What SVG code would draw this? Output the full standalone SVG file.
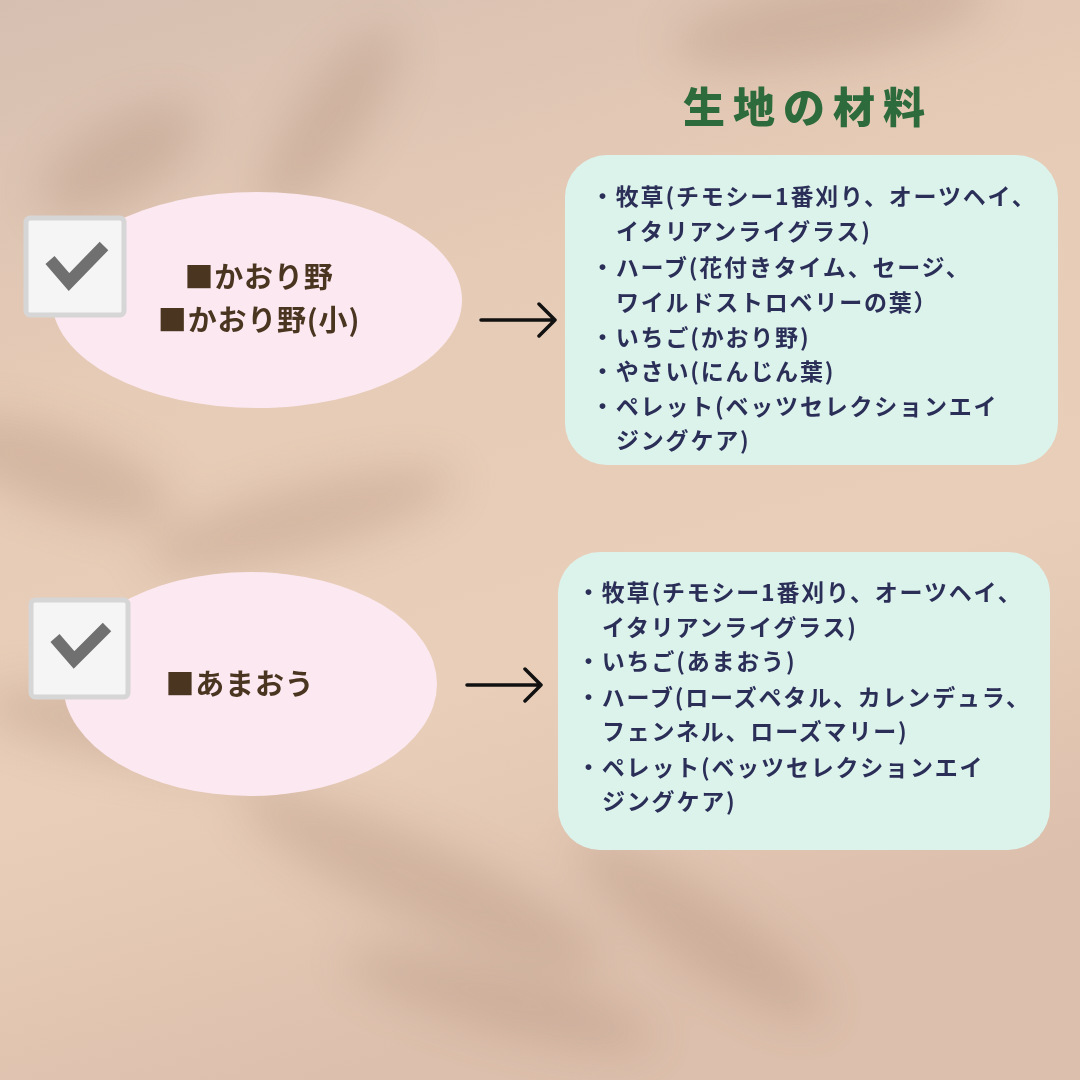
<svg xmlns="http://www.w3.org/2000/svg" width="1080" height="1080" viewBox="0 0 1080 1080">
<style>
.title{font-family:"Noto Sans CJK JP","Noto Sans",sans-serif;font-weight:900;font-size:42px;fill:#2d6a3c;letter-spacing:8px}
.oval{fill:#fce8f1}
.otext{font-family:"Noto Sans CJK JP","Noto Sans",sans-serif;font-weight:700;font-size:29px;fill:#4a3520;letter-spacing:0.8px}
.panel{fill:#dcf3ec}
.ptext{font-family:"Noto Sans CJK JP","Noto Sans",sans-serif;font-weight:700;font-size:23px;fill:#2b2f58;letter-spacing:1.8px}
.box{fill:#f5f5f5;stroke:#d6d6d6;stroke-width:5}
.check{fill:none;stroke:#707070;stroke-width:12;stroke-linejoin:miter}
.arrow{fill:none;stroke:#111;stroke-width:3.5;stroke-linecap:round;stroke-linejoin:round}
</style>
<defs>
<linearGradient id="bg" x1="0" y1="0" x2="0.3" y2="1">
<stop offset="0" stop-color="#d6bfb1"/>
<stop offset="0.35" stop-color="#e6cbb6"/>
<stop offset="0.7" stop-color="#e9cfba"/>
<stop offset="1" stop-color="#dcbfac"/>
</linearGradient>
<filter id="blur" x="-50%" y="-50%" width="200%" height="200%"><feGaussianBlur stdDeviation="22"/></filter>
</defs>
<rect width="1080" height="1080" fill="url(#bg)"/>
<g filter="url(#blur)" fill="#a88672" opacity="0.3">
<ellipse cx="120" cy="160" rx="90" ry="40" transform="rotate(-30 120 160)"/>
<ellipse cx="330" cy="120" rx="110" ry="35" transform="rotate(-55 330 120)"/>
<ellipse cx="60" cy="470" rx="120" ry="40" transform="rotate(20 60 470)"/>
<ellipse cx="300" cy="520" rx="160" ry="35" transform="rotate(-15 300 520)"/>
<ellipse cx="140" cy="730" rx="160" ry="35" transform="rotate(10 140 730)"/>
<ellipse cx="420" cy="880" rx="200" ry="40" transform="rotate(25 420 880)"/>
<ellipse cx="700" cy="930" rx="150" ry="35" transform="rotate(35 700 930)"/>
<ellipse cx="830" cy="20" rx="160" ry="40" transform="rotate(-10 830 20)"/>
<ellipse cx="500" cy="1000" rx="160" ry="30" transform="rotate(15 500 1000)"/>
</g>

<g id="title"><text class="title" x="808" y="123" text-anchor="middle">生地の材料</text></g>

<g id="node-kaorino">
<ellipse class="oval" cx="257" cy="300" rx="205" ry="108"/>
<rect class="box" x="26" y="218" width="98" height="97" rx="4"/>
<path class="check" d="M50 260 L69 282 L104 246"/>
<text class="otext" x="259" y="288" text-anchor="middle">■かおり野</text>
<text class="otext" x="259" y="331" text-anchor="middle">■かおり野(小)</text>
</g>

<g id="node-amaou">
<ellipse class="oval" cx="250" cy="684" rx="187" ry="112"/>
<rect class="box" x="31" y="600" width="97" height="97" rx="4"/>
<path class="check" d="M55 638 L74 660 L107 627"/>
<text class="otext" x="240" y="695" text-anchor="middle">■あまおう</text>
</g>

<g id="panel-kaorino">
<rect class="panel" x="565" y="155" width="493" height="310" rx="42"/>
<text class="ptext" x="591" y="205">・牧草(チモシー1番刈り、オーツヘイ、</text>
<text class="ptext" x="616" y="240">イタリアンライグラス)</text>
<text class="ptext" x="591" y="276">・ハーブ(花付きタイム、セージ、</text>
<text class="ptext" x="616" y="311">ワイルドストロベリーの葉）</text>
<text class="ptext" x="591" y="346">・いちご(かおり野)</text>
<text class="ptext" x="591" y="380">・やさい(にんじん葉)</text>
<text class="ptext" x="591" y="415">・ペレット(ベッツセレクションエイ</text>
<text class="ptext" x="616" y="449">ジングケア)</text>
</g>

<g id="panel-amaou">
<rect class="panel" x="558" y="552" width="492" height="298" rx="42"/>
<text class="ptext" x="577" y="601">・牧草(チモシー1番刈り、オーツヘイ、</text>
<text class="ptext" x="602" y="636">イタリアンライグラス)</text>
<text class="ptext" x="577" y="670">・いちご(あまおう)</text>
<text class="ptext" x="577" y="706">・ハーブ(ローズペタル、カレンデュラ、</text>
<text class="ptext" x="602" y="740">フェンネル、ローズマリー)</text>
<text class="ptext" x="577" y="776">・ペレット(ベッツセレクションエイ</text>
<text class="ptext" x="602" y="810">ジングケア)</text>
</g>

<g id="connectors">
<path class="arrow" d="M481 320 H555 M539 304 L555 320 L539 336"/>
<path class="arrow" d="M467 685 H541 M525 669 L541 685 L525 701"/>
</g>
</svg>
